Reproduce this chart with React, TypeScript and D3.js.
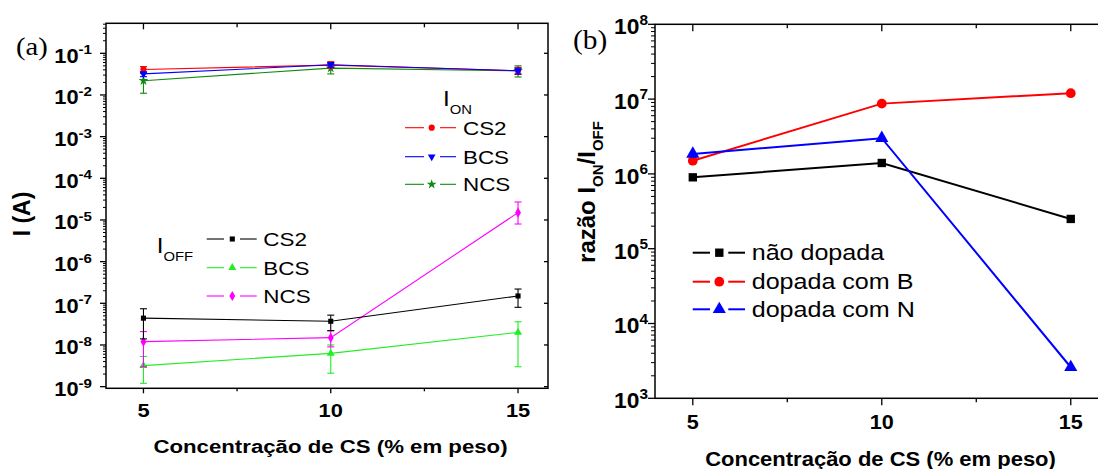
import React from 'react';
import * as d3 from 'd3';

// ---------- data ----------
const concentration = [5, 10, 15];
const xMajorTicks = [5, 10, 15];
const xMinorTicks = [7.5, 12.5];

// Panel (a): I_ON
const ionCS2 = [0.041, 0.052, 0.038];
const ionCS2Lo = [0.034, 0.044, 0.031];
const ionCS2Hi = [0.048, 0.063, 0.046];
const ionBCS = [0.032, 0.053, 0.038];
const ionBCSLo = [0.0275, 0.046, 0.032];
const ionBCSHi = [0.036, 0.060, 0.044];
const ionNCS = [0.022, 0.044, 0.038];
const ionNCSLo = [0.011, 0.032, 0.027];
const ionNCSHi = [0.033, 0.056, 0.050];

// Panel (a): I_OFF
const ioffCS2 = [4.4e-8, 3.7e-8, 1.5e-7];
const ioffCS2Lo = [1.4e-8, 2.2e-8, 8e-8];
const ioffCS2Hi = [7.4e-8, 5.2e-8, 2.2e-7];
const ioffBCS = [3.2e-9, 6.3e-9, 2.0e-8];
const ioffBCSLo = [1.2e-9, 2.1e-9, 3e-9];
const ioffBCSHi = [5.3e-9, 1.0e-8, 3.6e-8];
const ioffNCS = [1.2e-8, 1.5e-8, 1.5e-5];
const ioffNCSLo = [3e-9, 9e-9, 8e-6];
const ioffNCSHi = [2.1e-8, 2.2e-8, 2.7e-5];

const yExpA = [-9, -8, -7, -6, -5, -4, -3, -2, -1];

// Panel (b): ratio I_ON / I_OFF
const ratioUndoped = [9.0e5, 1.4e6, 2.5e5];
const ratioBoron = [1.5e6, 8.7e6, 1.2e7];
const ratioNitrogen = [1.85e6, 3.0e6, 2.6e3];
const yExpB = [3, 4, 5, 6, 7, 8];

const legendOnLabels = ['CS2', 'BCS', 'NCS'];
const legendOffLabels = ['CS2', 'BCS', 'NCS'];
const legendBLabels = ['não dopada', 'dopada com B', 'dopada com N'];

const xAxisTitle = 'Concentração de CS (% em peso)';

// ---------- styling ----------
const SANS = "'Liberation Sans', Arial, Helvetica, sans-serif";
const SERIF = "'Liberation Serif', 'Times New Roman', serif";
const RED = '#ff0000';
const BLUE = '#0000ff';
const DGREEN = '#108a10';
const LGREEN = '#22ee22';
const MAGENTA = '#ff00ff';

function sym(type: any, size: number) {
  return d3.symbol().type(type).size(size)() as string;
}

function minorLogTicks(lo: number, hi: number, d0: number, d1: number) {
  const out: number[] = [];
  for (let e = lo; e <= hi; e++) {
    for (let k = 2; k <= 9; k++) {
      const v = k * Math.pow(10, e);
      if (v > d0 && v < d1) out.push(v);
    }
  }
  return out;
}

function ST({ x, y, sx = 1, size, weight = 'normal', anchor = 'start', family = SANS, rotate = 0, children }: any) {
  return (
    <text
      transform={`translate(${x},${y}) rotate(${rotate}) scale(${sx},1)`}
      fontSize={size}
      fontWeight={weight}
      textAnchor={anchor}
      fontFamily={family}
      fill="#000"
    >
      {children}
    </text>
  );
}

export default function App() {
  // ----- panel a -----
  const A = { left: 106, right: 548, top: 23.3, bottom: 388.3 };
  const xA = d3.scaleLinear().domain([4, 15.8]).range([A.left, A.right]);
  const yA = d3.scaleLog().domain([Math.pow(10, -9.04), Math.pow(10, -0.28)]).range([A.bottom, A.top]);
  const minorA = minorLogTicks(-10, -1, yA.domain()[0], yA.domain()[1]);

  // ----- panel b -----
  const B = { left: 655, right: 1101, top: 24.3, bottom: 398.3 };
  const xB = d3.scaleLinear().domain([4, 15.8]).range([B.left, B.right]);
  const yB = d3.scaleLog().domain([1e3, 1e8]).range([B.bottom, B.top]);
  const minorB = minorLogTicks(3, 7, 1e3, 1e8);

  const lineA = (vals: number[]) =>
    d3.line<number>().x((_, i) => xA(concentration[i])).y((v) => yA(v))(vals) as string;
  const lineB = (vals: number[]) =>
    d3.line<number>().x((_, i) => xB(concentration[i])).y((v) => yB(v))(vals) as string;

  const seriesA = [
    { vals: ionNCS, lo: ionNCSLo, hi: ionNCSHi, color: DGREEN, shape: d3.symbolStar, size: 30, rot: 0 },
    { vals: ionCS2, lo: ionCS2Lo, hi: ionCS2Hi, color: RED, shape: d3.symbolCircle, size: 30, rot: 0 },
    { vals: ionBCS, lo: ionBCSLo, hi: ionBCSHi, color: BLUE, shape: d3.symbolTriangle, size: 26, rot: 180 },
    { vals: ioffBCS, lo: ioffBCSLo, hi: ioffBCSHi, color: LGREEN, shape: d3.symbolTriangle, size: 28, rot: 0 },
    { vals: ioffNCS, lo: ioffNCSLo, hi: ioffNCSHi, color: MAGENTA, shape: d3.symbolDiamond, size: 30, rot: 0 },
    { vals: ioffCS2, lo: ioffCS2Lo, hi: ioffCS2Hi, color: '#000', shape: d3.symbolSquare, size: 26, rot: 0 },
  ];

  const legendOn = [
    { label: legendOnLabels[0], color: RED, shape: d3.symbolCircle, size: 30, rot: 0, y: 127.7 },
    { label: legendOnLabels[1], color: BLUE, shape: d3.symbolTriangle, size: 26, rot: 180, y: 156.7 },
    { label: legendOnLabels[2], color: DGREEN, shape: d3.symbolStar, size: 30, rot: 0, y: 184.3 },
  ];
  const legendOff = [
    { label: legendOffLabels[0], color: '#000', shape: d3.symbolSquare, size: 26, rot: 0, y: 239 },
    { label: legendOffLabels[1], color: LGREEN, shape: d3.symbolTriangle, size: 28, rot: 0, y: 267.7 },
    { label: legendOffLabels[2], color: MAGENTA, shape: d3.symbolDiamond, size: 30, rot: 0, y: 296 },
  ];

  const seriesB = [
    { vals: ratioUndoped, color: '#000', shape: d3.symbolSquare, size: 70 },
    { vals: ratioBoron, color: RED, shape: d3.symbolCircle, size: 75 },
    { vals: ratioNitrogen, color: BLUE, shape: d3.symbolTriangle, size: 75 },
  ];
  const legendB = seriesB.map((s, i) => ({ ...s, label: legendBLabels[i], y: [252.7, 281.7, 309.3][i] }));

  return (
    <svg
      width={1098}
      height={469}
      style={{ position: 'absolute', left: 0, top: 0, display: 'block' }}
      xmlns="http://www.w3.org/2000/svg"
    >
      <rect x={0} y={0} width={1098} height={469} fill="#fff" />

      {/* ================= PANEL A ================= */}
      <g>
        {seriesA.map((s, si) => (
          <g key={'sa' + si}>
            <path d={lineA(s.vals)} fill="none" stroke={s.color} strokeWidth={1.1} />
            {s.vals.map((v, i) => {
              const cx = xA(concentration[i]);
              return (
                <g key={i} stroke={s.color} strokeWidth={1.1}>
                  <line x1={cx} x2={cx} y1={yA(s.lo[i])} y2={yA(s.hi[i])} />
                  <line x1={cx - 3.5} x2={cx + 3.5} y1={yA(s.lo[i])} y2={yA(s.lo[i])} />
                  <line x1={cx - 3.5} x2={cx + 3.5} y1={yA(s.hi[i])} y2={yA(s.hi[i])} />
                </g>
              );
            })}
            {s.vals.map((v, i) => (
              <path
                key={'m' + i}
                d={sym(s.shape, s.size)}
                transform={`translate(${xA(concentration[i])},${yA(v)}) rotate(${s.rot})`}
                fill={s.color}
              />
            ))}
          </g>
        ))}

        <rect x={A.left} y={A.top} width={A.right - A.left} height={A.bottom - A.top} fill="none" stroke="#000" strokeWidth={1.5} />

        {xMajorTicks.map((t) => (
          <g key={'xa' + t} stroke="#000" strokeWidth={1.3}>
            <line x1={xA(t)} x2={xA(t)} y1={A.bottom} y2={A.bottom + 5} />
            <line x1={xA(t)} x2={xA(t)} y1={A.top} y2={A.top + 6} />
          </g>
        ))}
        {xMinorTicks.map((t) => (
          <g key={'xam' + t} stroke="#000" strokeWidth={1.3}>
            <line x1={xA(t)} x2={xA(t)} y1={A.bottom} y2={A.bottom + 3} />
            <line x1={xA(t)} x2={xA(t)} y1={A.top} y2={A.top + 4} />
          </g>
        ))}
        {xMajorTicks.map((t) => (
          <ST key={'xal' + t} x={xA(t)} y={417} sx={1.15} size={19} weight="bold" anchor="middle">
            {t}
          </ST>
        ))}

        {yExpA.map((e) => {
          const y = yA(Math.pow(10, e));
          return (
            <g key={'ya' + e}>
              <line x1={A.left - 6} x2={A.left} y1={y} y2={y} stroke="#000" strokeWidth={1.3} />
              <line x1={A.right - 4} x2={A.right} y1={y} y2={y} stroke="#000" strokeWidth={1.3} />
              <ST x={92} y={y + 9.4} sx={1.12} size={19.5} weight="bold" anchor="end">
                <tspan>10</tspan>
                <tspan dy={-8.5} fontSize={13.5}>{String(e)}</tspan>
              </ST>
            </g>
          );
        })}
        {minorA.map((v, i) => (
          <line key={'yam' + i} x1={A.left - 3} x2={A.left} y1={yA(v)} y2={yA(v)} stroke="#000" strokeWidth={1} />
        ))}

        <ST x={330.5} y={453} sx={1.17} size={19} weight="bold" anchor="middle">
          {xAxisTitle}
        </ST>
        <ST x={30} y={214} rotate={-90} size={23} weight="bold" anchor="middle">
          I (A)
        </ST>
        <ST x={16} y={55} sx={1.1} size={26} family={SERIF}>
          (a)
        </ST>

        <ST x={443} y={106} sx={1.1} size={22}>
          <tspan>I</tspan>
          <tspan dy={8} fontSize={13.5}>ON</tspan>
        </ST>
        {legendOn.map((l) => (
          <g key={'lon' + l.label}>
            <line x1={405} x2={424} y1={l.y} y2={l.y} stroke={l.color} strokeWidth={1.1} />
            <line x1={440} x2={456} y1={l.y} y2={l.y} stroke={l.color} strokeWidth={1.1} />
            <path d={sym(l.shape, l.size)} transform={`translate(431.7,${l.y}) rotate(${l.rot})`} fill={l.color} />
            <ST x={463} y={l.y + 6.8} sx={1.18} size={19}>
              {l.label}
            </ST>
          </g>
        ))}

        <ST x={156.7} y={253} sx={1.1} size={22}>
          <tspan>I</tspan>
          <tspan dy={8} fontSize={13.5}>OFF</tspan>
        </ST>
        {legendOff.map((l) => (
          <g key={'loff' + l.label}>
            <line x1={206.7} x2={224} y1={l.y} y2={l.y} stroke={l.color} strokeWidth={1.1} />
            <line x1={240} x2={256.7} y1={l.y} y2={l.y} stroke={l.color} strokeWidth={1.1} />
            <path d={sym(l.shape, l.size)} transform={`translate(232.3,${l.y}) rotate(${l.rot})`} fill={l.color} />
            <ST x={263.3} y={l.y + 6.8} sx={1.18} size={19}>
              {l.label}
            </ST>
          </g>
        ))}
      </g>

      {/* ================= PANEL B ================= */}
      <g>
        {seriesB.map((s, si) => (
          <g key={'sb' + si}>
            <path d={lineB(s.vals)} fill="none" stroke={s.color} strokeWidth={2} />
            {s.vals.map((v, i) => (
              <path key={i} d={sym(s.shape, s.size)} transform={`translate(${xB(concentration[i])},${yB(v)})`} fill={s.color} />
            ))}
          </g>
        ))}

        <rect x={B.left} y={B.top} width={B.right - B.left} height={B.bottom - B.top} fill="none" stroke="#000" strokeWidth={1.5} />

        {xMajorTicks.map((t) => (
          <g key={'xb' + t} stroke="#000" strokeWidth={1.3}>
            <line x1={xB(t)} x2={xB(t)} y1={B.bottom} y2={B.bottom + 7} />
            <line x1={xB(t)} x2={xB(t)} y1={B.top} y2={B.top + 7} />
          </g>
        ))}
        {xMinorTicks.map((t) => (
          <g key={'xbm' + t} stroke="#000" strokeWidth={1.3}>
            <line x1={xB(t)} x2={xB(t)} y1={B.bottom} y2={B.bottom + 4} />
            <line x1={xB(t)} x2={xB(t)} y1={B.top} y2={B.top + 4} />
          </g>
        ))}
        {xMajorTicks.map((t) => (
          <ST key={'xbl' + t} x={xB(t)} y={429} sx={1.08} size={20} weight="bold" anchor="middle">
            {t}
          </ST>
        ))}

        {yExpB.map((e) => {
          const y = yB(Math.pow(10, e));
          return (
            <g key={'yb' + e}>
              <line x1={B.left - 7} x2={B.left} y1={y} y2={y} stroke="#000" strokeWidth={1.3} />
              <ST x={648} y={y + 9.8} sx={1.06} size={21.5} weight="bold" anchor="end">
                <tspan>10</tspan>
                <tspan dy={-9.5} fontSize={14.5}>{String(e)}</tspan>
              </ST>
            </g>
          );
        })}
        {minorB.map((v, i) => (
          <line key={'ybm' + i} x1={B.left - 4} x2={B.left} y1={yB(v)} y2={yB(v)} stroke="#000" strokeWidth={1} />
        ))}

        <ST x={880.5} y={466} sx={1.1} size={20} weight="bold" anchor="middle">
          {xAxisTitle}
        </ST>
        <ST x={595} y={192} rotate={-90} size={24} weight="bold" anchor="middle">
          <tspan>razão I</tspan>
          <tspan dy={8} fontSize={15}>ON</tspan>
          <tspan dy={-8}>/I</tspan>
          <tspan dy={8} fontSize={15}>OFF</tspan>
        </ST>
        <ST x={573} y={48.5} sx={1.05} size={28} family={SERIF}>
          (b)
        </ST>

        {legendB.map((l) => (
          <g key={'lb' + l.label}>
            <line x1={692.7} x2={710} y1={l.y} y2={l.y} stroke={l.color} strokeWidth={2} />
            <line x1={728.3} x2={745} y1={l.y} y2={l.y} stroke={l.color} strokeWidth={2} />
            <path d={sym(l.shape, l.size)} transform={`translate(719.3,${l.y})`} fill={l.color} />
            <ST x={751.7} y={l.y + 7.6} sx={1.14} size={22}>
              {l.label}
            </ST>
          </g>
        ))}
      </g>
    </svg>
  );
}
